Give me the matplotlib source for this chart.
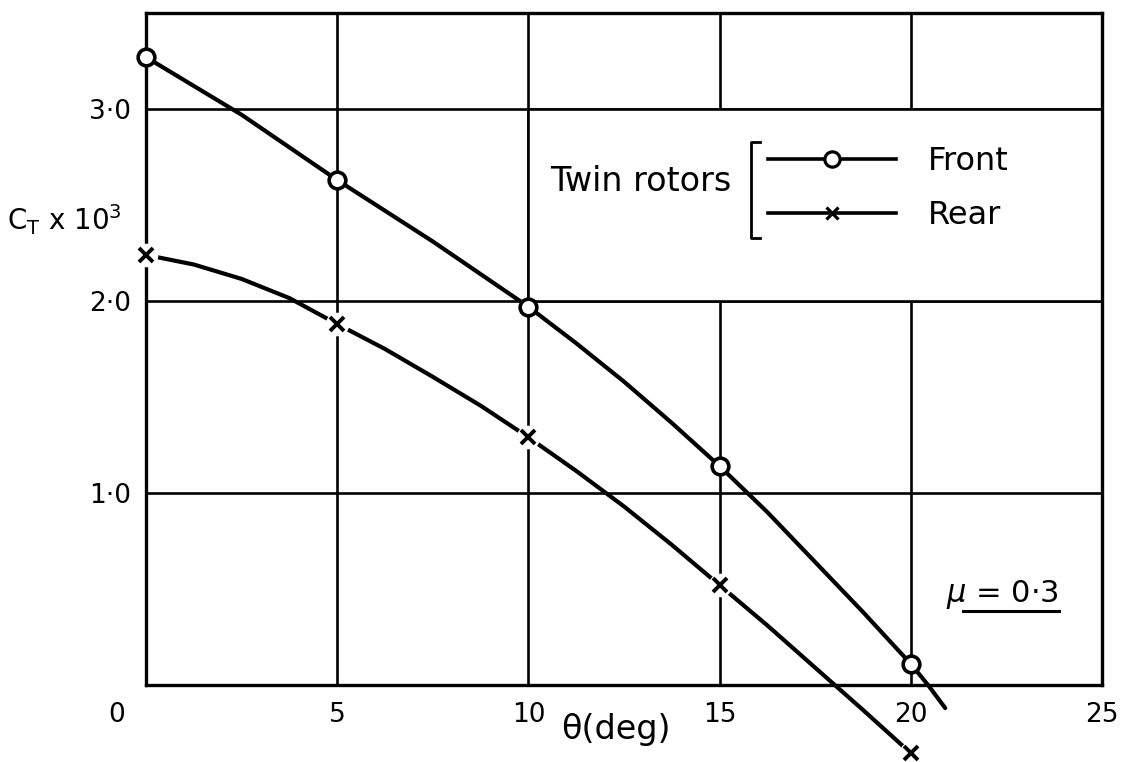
import matplotlib
matplotlib.use('Agg')
import matplotlib.pyplot as plt
from matplotlib.lines import Line2D
from matplotlib.patches import Rectangle
from matplotlib.transforms import ScaledTranslation

# axis ticks
theta_ticks = [0, 5, 10, 15, 20, 25]
theta_tick_labels = ['0', '5', '10', '15', '20', '25']
ct_ticks = [1, 2, 3]
ct_tick_labels = ['1·0', '2·0', '3·0']

# measured points (CT x 10^3 against collective pitch)
theta_pts = [0, 5, 10, 15, 20]
front_pts = [3.27, 2.63, 1.97, 1.14, 0.11]
rear_pts = [2.24, 1.88, 1.29, 0.52, -0.355]

# faired curves
front_curve_theta = [0, 1.25, 2.5, 3.75, 5, 6.25, 7.5, 8.75, 10, 11.25, 12.5,
                     13.75, 15, 16.25, 17.5, 18.75, 20, 20.45, 20.9]
front_curve_ct = [3.27, 3.12, 2.97, 2.80, 2.63, 2.47, 2.31, 2.14, 1.97, 1.78, 1.58,
                  1.365, 1.14, 0.90, 0.64, 0.38, 0.11, 0.0, -0.12]
rear_curve_theta = [0, 1.25, 2.5, 3.75, 5, 6.25, 7.5, 8.75, 10, 11.25, 12.5,
                    13.75, 15, 16.25, 17.5, 18.75, 20]
rear_curve_ct = [2.24, 2.19, 2.115, 2.015, 1.88, 1.75, 1.605, 1.455, 1.29, 1.115, 0.93,
                 0.73, 0.52, 0.31, 0.09, -0.13, -0.355]

plt.rcParams['font.family'] = ['DejaVu Sans']
plt.rcParams['mathtext.fontset'] = 'dejavusans'

fig = plt.figure(figsize=(11.32, 7.62), dpi=100)
ax = fig.add_axes([146 / 1132, 77 / 762, 956 / 1132, 672 / 762])
ax.set_xlim(0, 25)
ax.set_ylim(0, 3.5)

grid_lw = 1.9
for s in ax.spines.values():
    s.set_linewidth(2.4)
    s.set_zorder(2.5)

ax.set_xticks(theta_ticks)
ax.set_xticklabels(theta_tick_labels)
ax.set_yticks(ct_ticks)
ax.set_yticklabels(ct_tick_labels)
ax.tick_params(axis='both', length=0, labelsize=19)
ax.tick_params(axis='x', pad=12)
ax.tick_params(axis='y', pad=11)
ax.set_axisbelow(True)
ax.grid(True, color='black', linewidth=grid_lw)

# "0" sits left of the origin on the original sheet
lbl0 = ax.get_xticklabels()[0]
lbl0.set_transform(lbl0.get_transform() + ScaledTranslation(-0.29, 0, fig.dpi_scale_trans))

# blank cell behind the key
ax.add_patch(Rectangle((10, 2), 15, 1, facecolor='white', edgecolor='black',
                       linewidth=grid_lw, zorder=1))

# curves
ax.plot(front_curve_theta, front_curve_ct, color='black', lw=3.0,
        zorder=2.6, clip_on=False, solid_capstyle='round', solid_joinstyle='round')
ax.plot(rear_curve_theta, rear_curve_ct, color='black', lw=3.0,
        zorder=2.6, clip_on=False, solid_capstyle='round', solid_joinstyle='round')

# markers
ax.plot(theta_pts, front_pts, 'o', ms=12, mfc='white', mec='black', mew=2.6,
        zorder=4, clip_on=False)
ax.plot(theta_pts, rear_pts, 'o', ms=17, mfc='white', mec='none',
        zorder=3, clip_on=False)
ax.plot(theta_pts, rear_pts, 'x', ms=10, mec='black', mew=2.8,
        zorder=4, clip_on=False)

# axis titles
ax.set_xlabel('θ(deg)', fontsize=24)
ax.xaxis.set_label_coords(0.492, -0.042)
ax.set_ylabel(r'C$_{\mathregular{T}}$ x 10$^{\mathregular{3}}$', fontsize=20,
              rotation=0, ha='center', va='center')
ax.yaxis.set_label_coords(-0.085, 0.692)

# key
handles = [
    Line2D([], [], color='black', lw=2.6, marker='o', ms=11, mfc='white',
           mec='black', mew=2.3),
    Line2D([], [], color='black', lw=2.6, marker='x', ms=8, mec='black', mew=2.3),
]
ax.legend(handles, ['Front', 'Rear'], loc='center left',
          bbox_to_anchor=(16.26, 2.585), bbox_transform=ax.transData,
          frameon=False, fontsize=23, handlelength=4.0, handletextpad=1.0,
          labelspacing=0.72, borderpad=0, borderaxespad=0, numpoints=1)
ax.text(15.3, 2.62, 'Twin rotors', fontsize=24, ha='right', va='center', zorder=5)
ax.plot([16.05, 15.81, 15.81, 16.05], [2.83, 2.83, 2.33, 2.33], color='black',
        lw=2.0, zorder=5)

# advance ratio note, underlined
mu = ax.text(22.4, 0.47, r'$\mu$ = 0·3', fontsize=22, ha='center', va='center')
fig.canvas.draw()
bb = mu.get_window_extent().transformed(fig.transFigure.inverted())
ux0 = bb.x0 + 0.15 * bb.width
fig.add_artist(Line2D([ux0, bb.x1], [bb.y0 + 0.0, bb.y0 + 0.0],
                      color='black', lw=2.2, transform=fig.transFigure))

fig.savefig('out.png', dpi=100)
